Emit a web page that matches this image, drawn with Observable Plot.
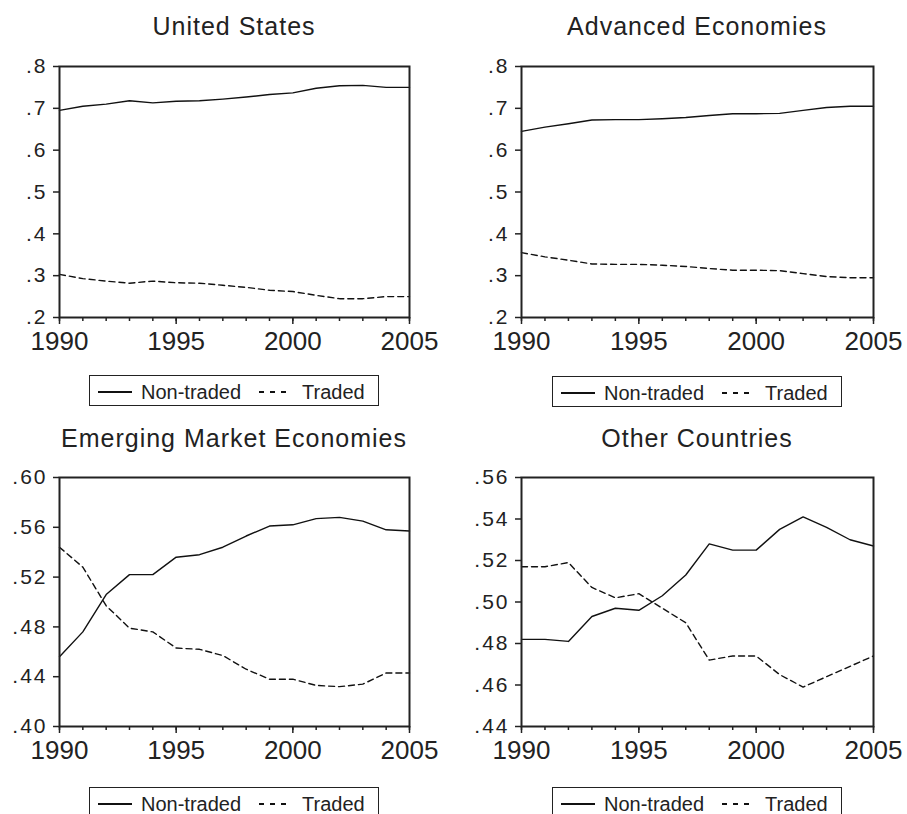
<!DOCTYPE html>
<html><head><meta charset="utf-8">
<script src="https://cdn.jsdelivr.net/npm/d3@7"></script>
<script src="https://cdn.jsdelivr.net/npm/@observablehq/plot@0.6"></script>
<style>
body{margin:0;background:#fff;}
#root{position:relative;width:907px;height:814px;overflow:hidden;font-family:"Liberation Sans",Arial,sans-serif;color:#222;background:#fff;}
.title{position:absolute;width:420px;font-size:25px;line-height:25px;letter-spacing:1px;text-align:center;white-space:nowrap;}
.legend{position:absolute;width:290px;height:31px;box-sizing:border-box;border:1.5px solid #222;display:flex;align-items:center;font-size:20px;padding:3px 0 0 8px;white-space:nowrap;background:#fff;}
.sw{display:inline-block;height:1.5px;}
.panel{position:absolute;}
g[aria-label="y-axis tick label"] text{letter-spacing:2px;}
</style>
</head><body>
<div id="root"></div>
<script>
const years = [1990,1991,1992,1993,1994,1995,1996,1997,1998,1999,2000,2001,2002,2003,2004,2005];
const majorYears = [1990,1995,2000,2005];

const titles = ["United States","Advanced Economies","Emerging Market Economies","Other Countries"];
const seriesNames = ["Non-traded","Traded"];

const usNonTraded = [.695,.705,.710,.718,.713,.717,.718,.722,.727,.733,.737,.748,.754,.755,.750,.750];
const usTraded    = [.303,.293,.287,.282,.287,.283,.282,.277,.272,.265,.262,.253,.245,.245,.250,.250];

const aeNonTraded = [.645,.655,.663,.672,.673,.673,.675,.678,.683,.687,.687,.688,.695,.702,.705,.705];
const aeTraded    = [.355,.345,.337,.328,.327,.327,.325,.322,.317,.313,.313,.312,.305,.298,.295,.295];

const emNonTraded = [.456,.476,.506,.522,.522,.536,.538,.544,.553,.561,.562,.567,.568,.565,.558,.557];
const emTraded    = [.544,.528,.497,.479,.476,.463,.462,.457,.446,.438,.438,.433,.432,.434,.443,.443];

const ocNonTraded = [.482,.482,.481,.493,.497,.496,.503,.513,.528,.525,.525,.535,.541,.536,.530,.527];
const ocTraded    = [.517,.517,.519,.507,.502,.504,.497,.490,.472,.474,.474,.465,.459,.464,.469,.474];

const topTicks = [.2,.3,.4,.5,.6,.7,.8];
const emTicks  = [.40,.44,.48,.52,.56,.60];
const ocTicks  = [.44,.46,.48,.50,.52,.54,.56];

const panels = [
  {title: titles[0], nt: usNonTraded, tr: usTraded, domain: [.2,.8], ticks: topTicks, fmt: ".1f", left: 0, top: 40, width: 450, mL: 59, mR: 41, mT: 26, mB: 43, titleTop: 14, legTop: 375},
  {title: titles[1], nt: aeNonTraded, tr: aeTraded, domain: [.2,.8], ticks: topTicks, fmt: ".1f", left: 450, top: 40, width: 457, mL: 71, mR: 34, mT: 26, mB: 43, titleTop: 14, legTop: 376},
  {title: titles[2], nt: emNonTraded, tr: emTraded, domain: [.40,.60], ticks: emTicks, fmt: ".2f", left: 0, top: 451, width: 450, mL: 59, mR: 41, mT: 26, mB: 45, titleTop: 426, legTop: 787},
  {title: titles[3], nt: ocNonTraded, tr: ocTraded, domain: [.44,.56], ticks: ocTicks, fmt: ".2f", left: 450, top: 451, width: 457, mL: 71, mR: 34, mT: 26, mB: 45, titleTop: 426, legTop: 787}
];

const root = document.getElementById("root");

panels.forEach(p => {
  const ntRows = years.map((y, i) => ({year: y, value: p.nt[i], series: seriesNames[0]}));
  const trRows = years.map((y, i) => ({year: y, value: p.tr[i], series: seriesNames[1]}));
  const f = d3.format(p.fmt);
  const chart = Plot.plot({
    width: p.width,
    height: 320,
    marginLeft: p.mL, marginRight: p.mR, marginTop: p.mT, marginBottom: p.mB,
    style: {fontFamily: '"Liberation Sans", Arial, sans-serif', color: "#222", background: "transparent", overflow: "visible"},
    x: {domain: [1990, 2005]},
    y: {domain: p.domain},
    marks: [
      Plot.axisX({ticks: years, tickSize: 4, text: null, strokeWidth: 1.5, label: null}),
      Plot.axisX({ticks: majorYears, tickSize: 7, tickPadding: 7, tickFormat: d => String(d), fontSize: 26, strokeWidth: 1.5, label: null}),
      Plot.axisY({ticks: p.ticks, tickSize: 6, tickPadding: 6, tickFormat: d => f(d).replace(/^0/, ""), fontSize: 21, strokeWidth: 1.5, label: null}),
      Plot.line(ntRows, {x: "year", y: "value", stroke: "#111", strokeWidth: 1.4}),
      Plot.line(trRows, {x: "year", y: "value", stroke: "#111", strokeWidth: 1.4, strokeDasharray: "6,4"}),
      Plot.frame({stroke: "#222", strokeWidth: 2})
    ]
  });
  const wrap = document.createElement("div");
  wrap.className = "panel";
  wrap.style.left = p.left + "px";
  wrap.style.top = p.top + "px";
  wrap.appendChild(chart);
  root.appendChild(wrap);

  const cx = p.left + p.mL + (p.width - p.mL - p.mR) / 2;
  const t = document.createElement("div");
  t.className = "title";
  t.style.left = (cx - 210) + "px";
  t.style.top = p.titleTop + "px";
  t.textContent = p.title;
  root.appendChild(t);

  const lg = document.createElement("div");
  lg.className = "legend";
  lg.style.left = (cx - 145) + "px";
  lg.style.top = p.legTop + "px";
  lg.innerHTML =
    '<span class="sw" style="width:34px;background:#111;margin-right:9px"></span>' +
    '<span>' + seriesNames[0] + '</span>' +
    '<span class="sw" style="width:28px;margin-left:18px;margin-right:15px;background:repeating-linear-gradient(to right,#111 0 5px,transparent 5px 11px)"></span>' +
    '<span>' + seriesNames[1] + '</span>';
  root.appendChild(lg);
});
</script>
</body></html>
